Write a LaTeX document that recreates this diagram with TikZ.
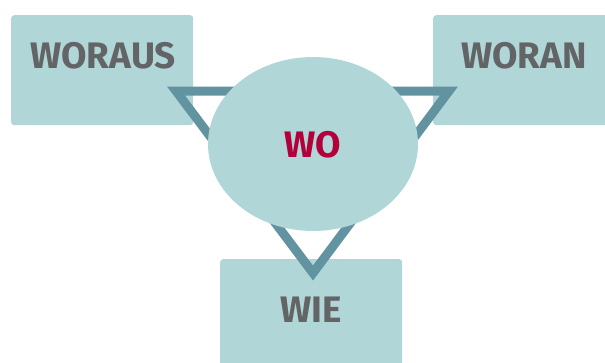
\documentclass[tikz,border=0pt]{standalone}
\usepackage{fontspec}
\setmainfont{Fira Sans}
\usetikzlibrary{shapes.geometric}
\definecolor{boxfill}{HTML}{B0D6D8}
\definecolor{triline}{HTML}{6293A0}
\definecolor{textgray}{HTML}{636466}
\definecolor{wored}{HTML}{B3003A}
\tikzset{
  box/.style={fill=boxfill, rounded corners=3bp, minimum width=182bp, minimum height=110bp, anchor=north west, inner sep=0pt},
  lbl/.style={font=\fontsize{37}{37}\selectfont\bfseries, text=textgray, inner sep=0pt},
}
\begin{document}
\begin{tikzpicture}[x=1bp,y=-1bp]
\useasboundingbox (0,0) rectangle (605,362);
\clip (0,0) rectangle (605,362);

\node[box] (woraus) at (11,15) {};
\node[box] (woran) at (433,15) {};
\node[box] (wie) at (220,259) {};

\node[lbl] (woraus-t) at (103,56) {WORAUS};
\node[lbl] (woran-t) at (524,56) {WORAN};
\node[lbl] (wie-t) at (311,310) {WIE};

\coordinate (tl) at (176,91);
\coordinate (tr) at (449,91);
\coordinate (bt) at (313,273);
\draw[triline, line width=9bp, miter limit=10] (tl) -- (tr) -- (bt) -- cycle;

\node[ellipse, fill=boxfill, minimum width=210bp, minimum height=174bp, inner sep=0pt] (wo) at (313,144) {};
\node[lbl, text=wored] (wo-t) at (313,145) {WO};
\end{tikzpicture}
\end{document}
